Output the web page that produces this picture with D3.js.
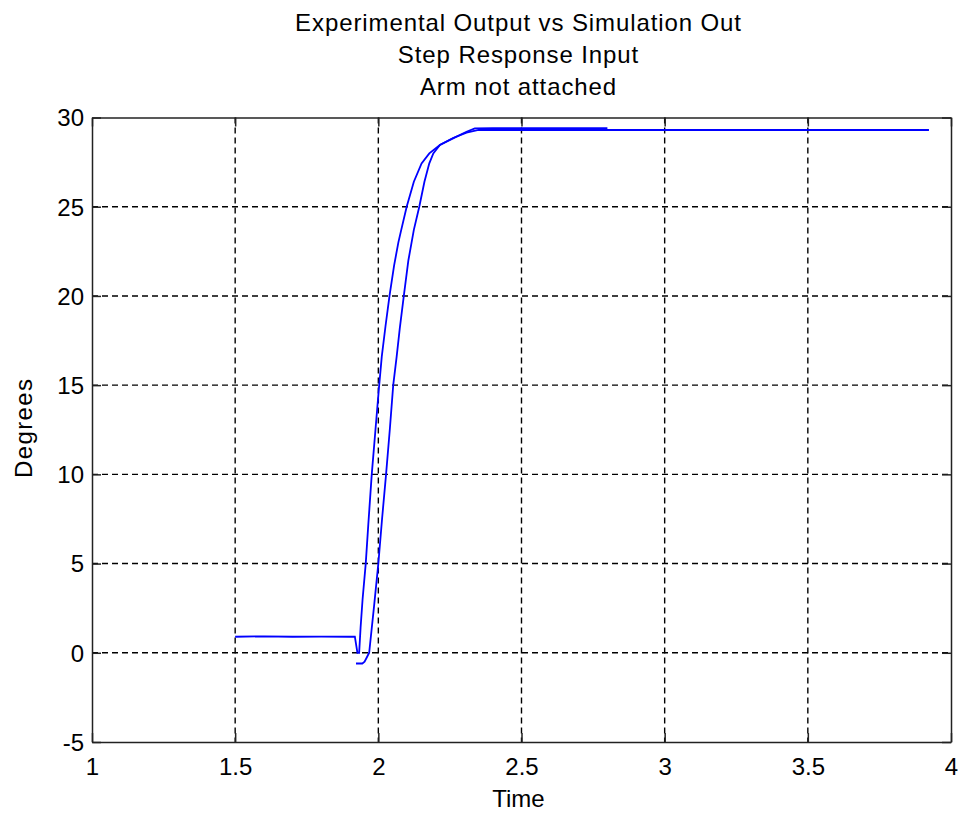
<!DOCTYPE html>
<html>
	<head>
		<meta charset="utf-8">
		<style>
			body { margin: 0; background: #fff; }
			text { font-family: "Liberation Sans", Arial, sans-serif; fill: #000; }
		</style>
	</head>
	<body>
		<script src="https://cdn.jsdelivr.net/npm/d3@7/dist/d3.min.js" charset="utf-8"></script>
		<script>
			// titles
			var titleLines = ["Experimental Output vs Simulation Out", "Step Response Input", "Arm not attached"];
			var xLabel = "Time";
			var yLabel = "Degrees";

			// ticks
			var xTicks = [1, 1.5, 2, 2.5, 3, 3.5, 4];
			var yTicks = [-5, 0, 5, 10, 15, 20, 25, 30];

			// experimental output
			var expTime = [1.5, 1.6, 1.7, 1.8, 1.9, 1.918, 1.922, 1.927, 1.933, 1.938, 1.945, 1.956, 1.965, 1.977, 1.99, 2.003, 2.012, 2.025, 2.039, 2.055, 2.07, 2.08, 2.099, 2.124, 2.151, 2.178, 2.215, 2.261, 2.308, 2.337, 2.4, 2.5, 2.6, 2.7, 2.8];
			var expVals = [0.9, 0.92, 0.9, 0.91, 0.9, 0.9, 0.5, 0.0, 0.0, 1.4, 3.0, 5.0, 7.2, 10, 12.5, 15, 16.6, 18.3, 20, 21.7, 23, 23.7, 25, 26.4, 27.43, 27.99, 28.46, 28.83, 29.2, 29.39, 29.4, 29.4, 29.4, 29.4, 29.4];

			// simulation output
			var simTime = [1.922, 1.944, 1.952, 1.96, 1.968, 1.985, 2.0, 2.013, 2.027, 2.04, 2.052, 2.064, 2.075, 2.089, 2.105, 2.124, 2.143, 2.161, 2.178, 2.192, 2.215, 2.261, 2.308, 2.35, 2.4, 2.5, 3.0, 3.5, 3.923];
			var simVals = [-0.6, -0.6, -0.5, -0.25, 0.0, 2.6, 5, 7.5, 10, 12.5, 15, 16.6, 18.2, 20, 22, 23.7, 25, 26.4, 27.43, 27.99, 28.46, 28.85, 29.15, 29.3, 29.3, 29.3, 29.3, 29.3, 29.3];

			var width = 958;
			var height = 813;
			var margin = {top: 117.5, right: 7, bottom: 71, left: 92};
			var plotW = width - margin.left - margin.right;
			var plotH = height - margin.top - margin.bottom;

			var svg = d3.select("body")
						.append("svg")
						.attr("width", width)
						.attr("height", height);

			var x = d3.scaleLinear().domain([1, 4]).range([0, plotW]);
			var y = d3.scaleLinear().domain([-5, 30]).range([plotH, 0]);

			var g = svg.append("g")
						.attr("transform", "translate(" + margin.left + "," + margin.top + ")");

			//网格
			g.append("g").selectAll("line")
				.data(xTicks.slice(1, -1))
				.enter()
				.append("line")
				.attr("x1", function(d) {return x(d);})
				.attr("x2", function(d) {return x(d);})
				.attr("y1", 0)
				.attr("y2", plotH)
				.attr("stroke", "#000")
				.attr("stroke-width", 1.4)
				.attr("stroke-dasharray", "6,4");
			g.append("g").selectAll("line")
				.data(yTicks.slice(1, -1))
				.enter()
				.append("line")
				.attr("x1", 0)
				.attr("x2", plotW)
				.attr("y1", function(d) {return y(d);})
				.attr("y2", function(d) {return y(d);})
				.attr("stroke", "#000")
				.attr("stroke-width", 1.4)
				.attr("stroke-dasharray", "6,4");

			//坐标轴
			var tickLen = 9;
			var fmt = function(d) {return String(d);};
			var xAxis = g.append("g")
						.attr("transform", "translate(0," + plotH + ")")
						.call(d3.axisBottom(x).tickValues(xTicks).tickSizeInner(-tickLen).tickSizeOuter(0).tickPadding(16).tickFormat(fmt));
			var xAxisTop = g.append("g")
						.call(d3.axisTop(x).tickValues(xTicks).tickSizeInner(-tickLen).tickSizeOuter(0).tickFormat(""));
			var yAxis = g.append("g")
						.call(d3.axisLeft(y).tickValues(yTicks).tickSizeInner(-tickLen).tickSizeOuter(0).tickPadding(8).tickFormat(fmt));
			var yAxisRight = g.append("g")
						.attr("transform", "translate(" + plotW + ",0)")
						.call(d3.axisRight(y).tickValues(yTicks).tickSizeInner(-tickLen).tickSizeOuter(0).tickFormat(""));

			[xAxis, xAxisTop, yAxis, yAxisRight].forEach(function(a) {
				a.selectAll("path").attr("stroke", "#222").attr("stroke-width", 1.5);
				a.selectAll("line").attr("stroke", "#222").attr("stroke-width", 1.5);
				a.selectAll("text").attr("font-size", "24px").attr("fill", "#000");
			});
			yAxis.selectAll("text").attr("dy", "0.35em");

			//曲线
			var line = d3.line()
						.x(function(d) {return x(d[0]);})
						.y(function(d) {return y(d[1]);});
			var expData = d3.zip(expTime, expVals);
			var simData = d3.zip(simTime, simVals);
			g.append("path")
				.datum(simData)
				.attr("fill", "none")
				.attr("stroke", "#0000ff")
				.attr("stroke-width", 1.8)
				.attr("d", line);
			g.append("path")
				.datum(expData)
				.attr("fill", "none")
				.attr("stroke", "#0000ff")
				.attr("stroke-width", 1.8)
				.attr("d", line);

			//标题
			svg.append("g").selectAll("text")
				.data(titleLines)
				.enter()
				.append("text")
				.attr("x", margin.left + plotW / 2 - 3)
				.attr("y", function(d, i) {return 31 + i * 32;})
				.attr("text-anchor", "middle")
				.attr("font-size", "24px")
				.attr("letter-spacing", "0.9px")
				.text(function(d) {return d;});

			svg.append("text")
				.attr("x", margin.left + plotW / 2 - 3)
				.attr("y", 807)
				.attr("text-anchor", "middle")
				.attr("font-size", "24px")
				.text(xLabel);

			svg.append("text")
				.attr("transform", "translate(32," + (margin.top + plotH / 2 - 2) + ") rotate(-90)")
				.attr("text-anchor", "middle")
				.attr("font-size", "24px")
				.attr("letter-spacing", "1.4px")
				.text(yLabel);
		</script>
	</body>
</html>
